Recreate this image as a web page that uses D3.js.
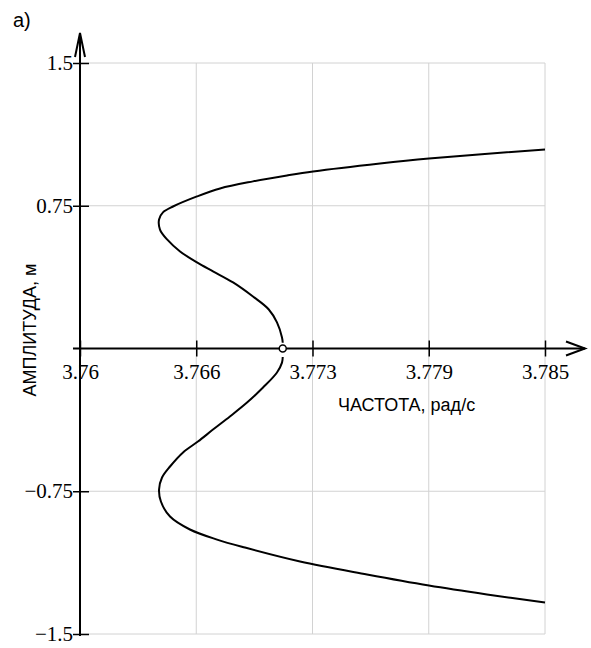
<!DOCTYPE html>
<html>
<head>
<meta charset="utf-8">
<script src="https://cdn.jsdelivr.net/npm/d3@7"></script>
<style>
  body { margin: 0; background: #fff; }
  .tick text { font-family: "Liberation Serif", "Times New Roman", serif; }
</style>
</head>
<body>
<div id="chart-container"></div>
<script>
// Frequency / amplitude ticks
const freqTicks = [3.76, 3.76625, 3.7725, 3.77875, 3.785];
const freqTickLabels = ["3.76", "3.766", "3.773", "3.779", "3.785"];
const ampTicks = [1.5, 0.75, -0.75, -1.5];
const ampTickLabels = ["1.5", "0.75", "\u22120.75", "\u22121.5"];

// Upper branch (amplitude > 0)
const upperFreq = [3.7709, 3.77086, 3.77059, 3.77015, 3.7693, 3.76823, 3.76715, 3.76629, 3.76538,
  3.76468, 3.7643, 3.76425, 3.76446, 3.765, 3.76629, 3.76753, 3.7693, 3.77113, 3.77253,
  3.77613, 3.77876, 3.785];
const upperAmp = [0.03, 0.058, 0.137, 0.205, 0.273, 0.347, 0.405, 0.452, 0.510,
  0.573, 0.625, 0.678, 0.715, 0.746, 0.799, 0.841, 0.878, 0.909, 0.930,
  0.972, 0.998, 1.046];

// Lower branch (amplitude < 0)
const lowerFreq = [3.7709, 3.77086, 3.77059, 3.76984, 3.76898, 3.76806, 3.76715, 3.76634, 3.76554,
  3.76484, 3.76441, 3.76425, 3.76435, 3.76484, 3.76591, 3.76737, 3.76887, 3.77183,
  3.77543, 3.77876, 3.78188, 3.785];
const lowerAmp = [-0.045, -0.074, -0.126, -0.205, -0.284, -0.357, -0.426, -0.489, -0.546,
  -0.620, -0.678, -0.741, -0.804, -0.883, -0.951, -1.004, -1.046, -1.119,
  -1.187, -1.245, -1.292, -1.335];

// Marked point on the frequency axis
const markFreq = 3.7709;
const markAmp = 0;

const width = 591;
const height = 648;

const svg = d3.select('#chart-container').append('svg')
  .attr('width', width)
  .attr('height', height);

// Scales
const xScale = d3.scaleLinear().domain([3.76, 3.785]).range([80, 545]);
const yScale = d3.scaleLinear().domain([-1.5, 1.5]).range([634, 63]);

// Grid
svg.append('g')
  .selectAll('line')
  .data(freqTicks.slice(1))
  .enter().append('line')
  .attr('x1', d => xScale(d)).attr('x2', d => xScale(d))
  .attr('y1', yScale(1.5)).attr('y2', yScale(-1.5))
  .attr('stroke', '#d2d2d2').attr('stroke-width', 1);

svg.append('g')
  .selectAll('line')
  .data(ampTicks)
  .enter().append('line')
  .attr('x1', xScale(3.76)).attr('x2', xScale(3.785))
  .attr('y1', d => yScale(d)).attr('y2', d => yScale(d))
  .attr('stroke', '#d2d2d2').attr('stroke-width', 1);

// x axis
const xAxis = svg.append('g')
  .attr('transform', `translate(0,${yScale(0)})`)
  .call(d3.axisBottom(xScale)
    .tickValues(freqTicks)
    .tickFormat((d, i) => freqTickLabels[i])
    .tickSize(8)
    .tickPadding(8));
xAxis.select('.domain').remove();
xAxis.selectAll('.tick line').attr('y1', -8).attr('y2', 8)
  .attr('stroke', '#000').attr('stroke-width', 1.5);
xAxis.selectAll('.tick text')
  .style('font-family', '"Liberation Serif", "Times New Roman", serif')
  .style('font-size', '21px').attr('fill', '#000');

// y axis
const yAxis = svg.append('g')
  .attr('transform', `translate(${xScale(3.76)},0)`)
  .call(d3.axisLeft(yScale)
    .tickValues(ampTicks)
    .tickFormat((d, i) => ampTickLabels[i])
    .tickSize(8)
    .tickPadding(0));
yAxis.select('.domain').remove();
yAxis.selectAll('.tick line').attr('x1', -7).attr('x2', 9)
  .attr('stroke', '#000').attr('stroke-width', 1.5);
yAxis.selectAll('.tick text')
  .attr('x', -7)
  .style('font-family', '"Liberation Serif", "Times New Roman", serif')
  .style('font-size', '21px').attr('fill', '#000');

// axis lines with open arrows
const x0 = xScale(3.76), y0 = yScale(0);
svg.append('line').attr('x1', 73).attr('x2', 585).attr('y1', y0).attr('y2', y0)
  .attr('stroke', '#000').attr('stroke-width', 2);
svg.append('path').attr('d', `M566,${y0 - 7}L585,${y0}L566,${y0 + 7}`)
  .attr('fill', 'none').attr('stroke', '#000').attr('stroke-width', 2);
svg.append('line').attr('x1', x0).attr('x2', x0).attr('y1', 636).attr('y2', 33)
  .attr('stroke', '#000').attr('stroke-width', 2);
svg.append('path').attr('d', `M${x0 - 5},57L${x0},33L${x0 + 5},57`)
  .attr('fill', 'none').attr('stroke', '#000').attr('stroke-width', 2);

// Curves
const line = d3.line()
  .x(d => xScale(d[0]))
  .y(d => yScale(d[1]))
  .curve(d3.curveCatmullRom);

svg.append('path')
  .datum(upperFreq.map((f, i) => [f, upperAmp[i]]))
  .attr('d', line)
  .attr('fill', 'none').attr('stroke', '#000').attr('stroke-width', 2);

svg.append('path')
  .datum(lowerFreq.map((f, i) => [f, lowerAmp[i]]))
  .attr('d', line)
  .attr('fill', 'none').attr('stroke', '#000').attr('stroke-width', 2);

svg.append('circle')
  .attr('cx', xScale(markFreq)).attr('cy', yScale(markAmp)).attr('r', 3.5)
  .attr('fill', '#fff').attr('stroke', '#000').attr('stroke-width', 1.5);

// Labels
svg.append('text')
  .attr('x', 13).attr('y', 27)
  .style('font-family', '"Liberation Sans", Arial, sans-serif')
  .style('font-size', '20px')
  .text('a)');

svg.append('text')
  .attr('x', 338).attr('y', 411)
  .style('font-family', '"Liberation Sans", Arial, sans-serif')
  .style('font-size', '18px')
  .text('ЧАСТОТА, рад/с');

svg.append('text')
  .attr('transform', 'translate(36,330) rotate(-90)')
  .attr('text-anchor', 'middle')
  .style('font-family', '"Liberation Sans", Arial, sans-serif')
  .style('font-size', '18px')
  .text('АМПЛИТУДА, м');
</script>
</body>
</html>
